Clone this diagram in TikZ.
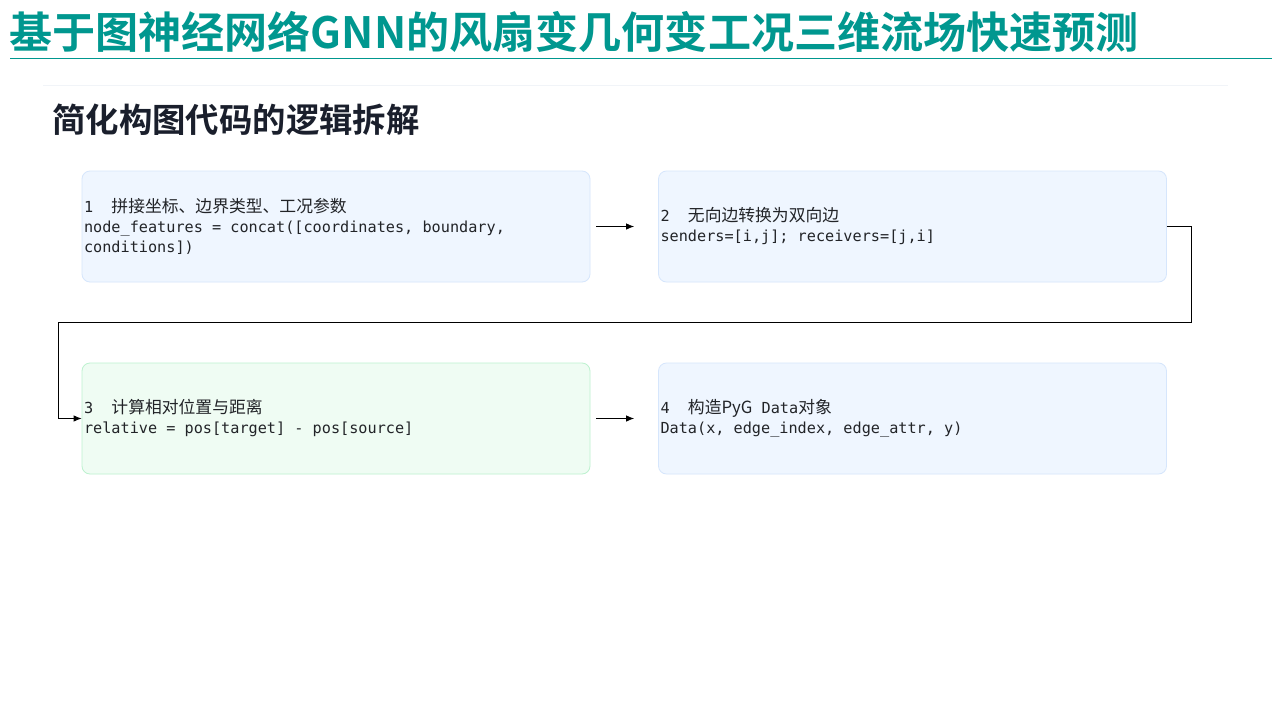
\documentclass[tikz,border=0pt]{standalone}
\usepackage{fontspec}
\usetikzlibrary{arrows.meta}
\newfontfamily\cjk{Noto Sans CJK SC}
\newfontfamily\cjkb{Noto Sans CJK SC Bold}
\newfontfamily\mono{DejaVu Sans Mono}
\definecolor{teal}{HTML}{00978F}
\definecolor{subtxt}{HTML}{1A1F2C}
\definecolor{boxtxt}{HTML}{222428}
\definecolor{bluefill}{HTML}{EFF6FF}
\definecolor{blueline}{HTML}{D6E6FC}
\definecolor{greenfill}{HTML}{EFFCF3}
\definecolor{greenline}{HTML}{BDF2CF}
\definecolor{faint}{HTML}{F1F4F8}
\newcommand{\cj}[1]{{\cjk\fontsize{16.8pt}{20pt}\selectfont #1}}
\newcommand{\gap}{\hspace*{18.3pt}}
\DeclareRobustCommand{\monosp}{\spaceskip=9.15pt\relax}
\begin{document}
\begin{tikzpicture}[x=1pt,y=-1pt,
  stepbox/.style={draw=blueline, fill=bluefill, line width=0.8pt, rounded corners=8pt,
    minimum width=508pt, minimum height=111pt, text width=504pt, inner xsep=2pt,
    align=left, text=boxtxt, font=\mono\fontsize{15.2pt}{20pt}\selectfont,
    execute at begin node=\monosp},
  greenbox/.style={stepbox, draw=greenline, fill=greenfill},
  arr/.style={-{Latex[length=8pt,width=6.5pt]}, line width=0.8pt, black}]
\useasboundingbox (0,0) rectangle (1280,720);
\fill[white] (0,0) rectangle (1280,720);
% title
\node[anchor=base west, inner sep=0, text=teal, font=\cjkb\fontsize{43.1pt}{50pt}\selectfont] (title) at (9,48) {基于图神经网络GNN的风扇变几何变工况三维流场快速预测};
\draw[teal, line width=1pt] (10,58.5) -- (1272,58.5);
\draw[faint, line width=1pt] (43,85.5) -- (1228,85.5);
\node[anchor=base west, inner sep=0, text=subtxt, font=\cjkb\fontsize{33.4pt}{38pt}\selectfont] (sub) at (52,132.5) {简化构图代码的逻辑拆解};
% boxes
\node[stepbox] (b1) at (336,226.5) {1\gap\cj{拼接坐标、边界类型、工况参数}\\node\_features = concat([coordinates, boundary,\\conditions])};
\node[stepbox] (b2) at (912.5,226.5) {2\gap\cj{无向边转换为双向边}\\senders=[i,j]; receivers=[j,i]};
\node[greenbox] (b3) at (336,418.5) {3\gap\cj{计算相对位置与距离}\\relative = pos[target] - pos[source]};
\node[stepbox] (b4) at (912.5,418.5) {4\gap\cj{构造PyG}\ Data\cj{对象}\\Data(x, edge\_index, edge\_attr, y)};
% connectors
\draw[arr, shorten <=6pt, shorten >=24pt] (b1) -- (b2);
\draw[arr, shorten <=6pt, shorten >=24pt] (b3) -- (b4);
\coordinate (c1) at (1191,322.5);
\coordinate (c2) at (58.5,322.5);
\draw[arr] (b2.east) -| (c1) -- (c2) |- (b3.west);
\end{tikzpicture}
\end{document}
